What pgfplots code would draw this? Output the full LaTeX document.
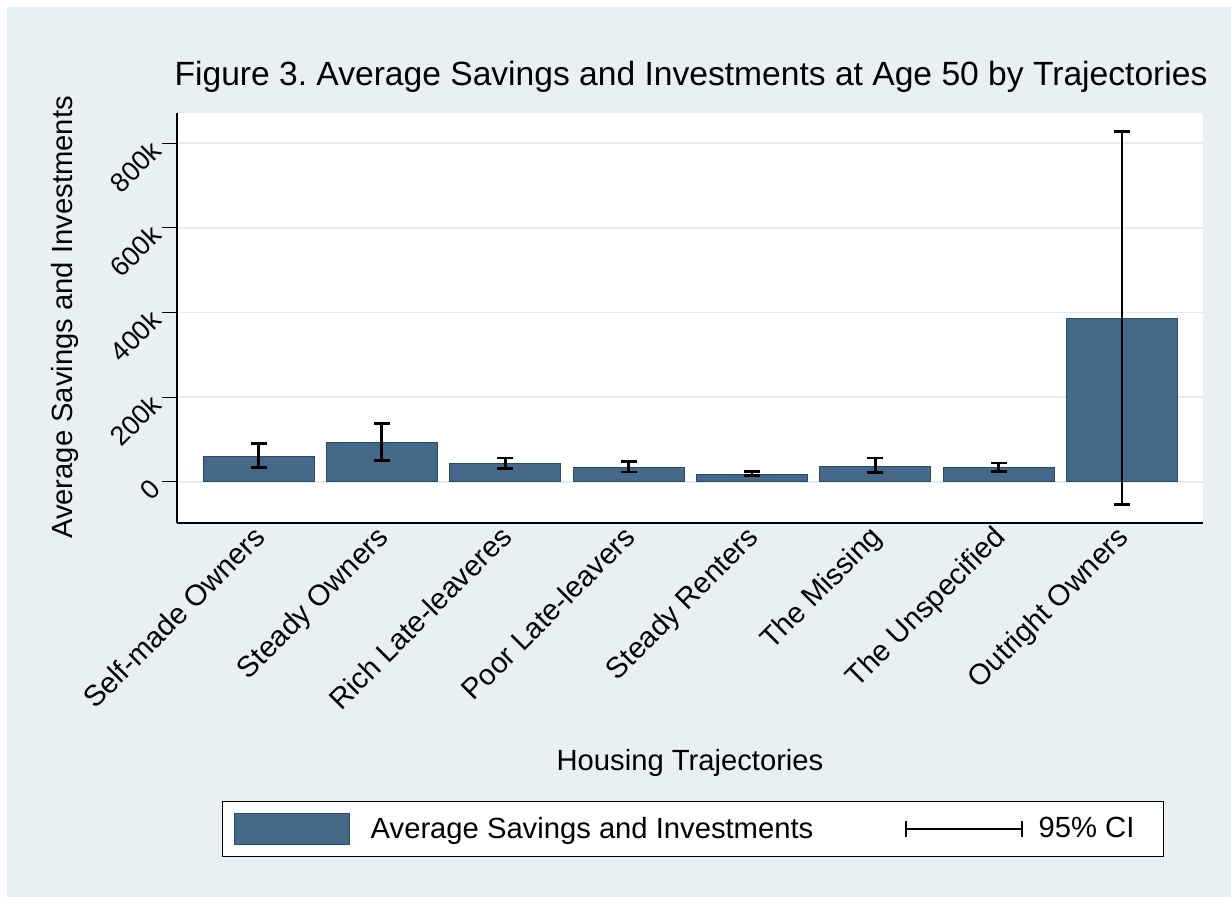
\documentclass[border=0pt]{standalone}
\usepackage{pgfplots}
\pgfplotsset{compat=1.18}
\usepackage{fontspec}
\setmainfont{Liberation Sans}
\definecolor{bgc}{RGB}{232,240,243}
\definecolor{barc}{RGB}{70,105,137}
\definecolor{barl}{RGB}{45,75,105}
\definecolor{gridc}{RGB}{228,236,240}
\pgfplotstableread{
x y ep em
0 60 30 26
1 93 44 42
2 43 13 12
3 33 14 10
4 18 6 3
5 37 19 15
6 33 11 8
7 385 442 438
}\datatable
\newcommand{\lab}{\fontsize{14.6bp}{17bp}\selectfont}
\newcommand{\ylab}{\fontsize{13.5bp}{16bp}\selectfont}
\begin{document}
\frenchspacing
\begin{tikzpicture}
\fill[white] (-5bp,-5bp) rectangle (620bp,453bp);
\fill[bgc] (3.5bp,-5bp) rectangle (620bp,445bp);
\begin{axis}[
 at={(88.5bp,187bp)}, anchor=south west,
 scale only axis, width=513bp, height=205bp,
 xmin=-0.661, xmax=7.657, ymin=-97.6, ymax=871.6,
 axis background/.style={fill=white},
 axis lines*=left, axis line style={black, line width=0.6bp, -},
 xtick={0,1,2,3,4,5,6,7},
 xticklabels={Self-made Owners, Steady Owners, Rich Late-leaveres, Poor Late-leavers, Steady Renters, The Missing, The Unspecified, Outright Owners},
 x tick style={draw=none},
 ytick={0,200,400,600,800}, yticklabels={0,200k,400k,600k,800k},
 tick align=outside, major tick length=7.5bp,
 y tick style={black, line width=0.6bp},
 ymajorgrids, major grid style={gridc, line width=0.8bp},
 xticklabel style={font=\lab, xshift=-3.4bp, yshift=7.3bp, rotate=45, anchor=north east, inner sep=0pt},
 yticklabel style={font=\ylab, xshift=-6.5bp, yshift=2.5bp, rotate=45, anchor=north east, inner sep=0pt},
 legend style={at={(axis description cs:0.0439,-0.678)}, anchor=north west, draw=black, fill=white, line width=0.6bp, font=\lab, legend columns=2, inner xsep=5.5bp, inner ysep=5.75bp, /tikz/every even column/.append style={column sep=44bp}},
 legend cell align=left,
]
\addplot[ybar, bar width=55.5bp, fill=barc, draw=barl, line width=0.5bp, forget plot,
  error bars/.cd, y dir=both, y explicit,
  error bar style={black, line width=1.4bp},
  error mark options={rotate=90, mark size=4bp, line width=1.4bp, black},
  ]
  table[x=x, y=y, y error plus=ep, y error minus=em] {\datatable};
\addlegendimage{legend image code/.code={\draw[fill=barc, draw=barl, line width=0.5bp] (0bp,-7.75bp) rectangle (57.5bp,7.75bp); \path (66bp,0bp);}}
\addlegendentry{Average Savings and Investments}
\addlegendimage{legend image code/.code={\draw[black, line width=0.8bp] (0bp,0bp) -- (58bp,0bp); \draw[black, line width=0.8bp] (0bp,-4bp) -- (0bp,4bp) (58bp,-4bp) -- (58bp,4bp); \path (64bp,0bp);}}
\addlegendentry{95\% CI\kern7bp}
\end{axis}
\node[font=\fontsize{16.8bp}{20bp}\selectfont, anchor=base] at (345.5bp,405.5bp) {Figure 3. Average Savings and Investments at Age 50 by Trajectories};
\node[font=\lab, anchor=base] at (345bp,63bp) {Housing Trajectories};
\node[font=\lab, rotate=90, anchor=base] at (36bp,289.75bp) {Average Savings and Investments};
\pgfresetboundingbox
\useasboundingbox (0,0) rectangle (615.5bp,448.5bp);
\end{tikzpicture}
\end{document}
